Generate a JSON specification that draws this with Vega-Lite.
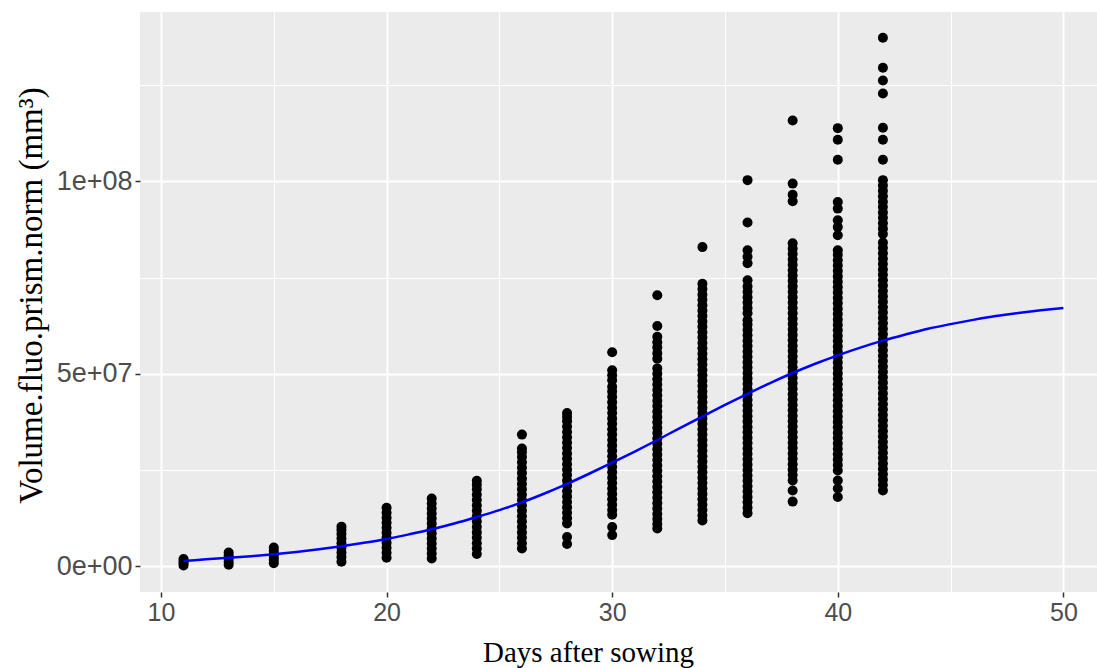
{
"$schema": "https://vega.github.io/schema/vega-lite/v6.json",
"width": 957, "height": 580,
"autosize": {"type": "none"},
"padding": {"left": 140, "top": 12, "right": 0, "bottom": 76},
"background": "white",
"view": {"fill": "#EBEBEB", "stroke": null},
"config": {"axis": {"domain": false, "gridColor": "white", "tickColor": "#333333", "tickSize": 5, "tickWidth": 1.5, "labelColor": "#4D4D4D", "labelFont": "Liberation Sans", "labelFontSize": 25, "labelPadding": 3, "titleFont": "Liberation Serif", "titleFontSize": 29, "titleFontWeight": "normal", "titleColor": "black"}},
"datasets": {
"pts": [
{"day":11,"volume":0.2e6},{"day":11,"volume":0.8e6},{"day":11,"volume":1.4e6},{"day":11,"volume":1.9e6},
{"day":13,"volume":0.4e6},{"day":13,"volume":1.2e6},{"day":13,"volume":2.0e6},{"day":13,"volume":2.8e6},{"day":13,"volume":3.6e6},
{"day":15,"volume":0.8e6},{"day":15,"volume":1.6e6},{"day":15,"volume":2.4e6},{"day":15,"volume":3.2e6},{"day":15,"volume":4.0e6},{"day":15,"volume":4.9e6},
{"day":18,"volume":1.2e6},{"day":18,"volume":2.4e6},{"day":18,"volume":3.6e6},{"day":18,"volume":4.8e6},{"day":18,"volume":6.0e6},{"day":18,"volume":7.2e6},{"day":18,"volume":8.4e6},{"day":18,"volume":9.4e6},{"day":18,"volume":10.3e6},
{"day":20,"volume":2.2e6},{"day":20,"volume":3.5e6},{"day":20,"volume":4.8e6},{"day":20,"volume":6.1e6},{"day":20,"volume":7.4e6},{"day":20,"volume":8.7e6},{"day":20,"volume":10.0e6},{"day":20,"volume":11.3e6},{"day":20,"volume":12.6e6},{"day":20,"volume":13.9e6},{"day":20,"volume":15.2e6},
{"day":22,"volume":2.0e6},{"day":22,"volume":3.3e6},{"day":22,"volume":4.6e6},{"day":22,"volume":5.9e6},{"day":22,"volume":7.2e6},{"day":22,"volume":8.5e6},{"day":22,"volume":9.8e6},{"day":22,"volume":11.1e6},{"day":22,"volume":12.4e6},{"day":22,"volume":13.7e6},{"day":22,"volume":15.0e6},{"day":22,"volume":16.3e6},{"day":22,"volume":17.6e6},
{"day":24,"volume":3.2e6},{"day":24,"volume":4.6e6},{"day":24,"volume":6.0e6},{"day":24,"volume":7.4e6},{"day":24,"volume":8.8e6},{"day":24,"volume":10.2e6},{"day":24,"volume":11.6e6},{"day":24,"volume":13.0e6},{"day":24,"volume":14.4e6},{"day":24,"volume":15.8e6},{"day":24,"volume":17.2e6},{"day":24,"volume":18.6e6},{"day":24,"volume":20.0e6},{"day":24,"volume":21.2e6},{"day":24,"volume":22.2e6},
{"day":26,"volume":4.6e6},{"day":26,"volume":6.0e6},{"day":26,"volume":7.4e6},{"day":26,"volume":8.8e6},{"day":26,"volume":10.2e6},{"day":26,"volume":11.6e6},{"day":26,"volume":13.0e6},{"day":26,"volume":14.4e6},{"day":26,"volume":15.8e6},{"day":26,"volume":17.2e6},{"day":26,"volume":18.6e6},{"day":26,"volume":20.0e6},{"day":26,"volume":21.4e6},{"day":26,"volume":22.8e6},{"day":26,"volume":24.2e6},{"day":26,"volume":25.6e6},{"day":26,"volume":27.0e6},{"day":26,"volume":28.4e6},{"day":26,"volume":29.6e6},{"day":26,"volume":30.6e6},{"day":26,"volume":34.2e6},
{"day":28,"volume":5.8e6},{"day":28,"volume":7.6e6},{"day":28,"volume":11.1e6},{"day":28,"volume":12.5e6},{"day":28,"volume":13.9e6},{"day":28,"volume":15.3e6},{"day":28,"volume":16.7e6},{"day":28,"volume":18.1e6},{"day":28,"volume":19.5e6},{"day":28,"volume":20.9e6},{"day":28,"volume":22.3e6},{"day":28,"volume":23.7e6},{"day":28,"volume":25.1e6},{"day":28,"volume":26.5e6},{"day":28,"volume":27.9e6},{"day":28,"volume":29.3e6},{"day":28,"volume":30.7e6},{"day":28,"volume":32.1e6},{"day":28,"volume":33.5e6},{"day":28,"volume":34.9e6},{"day":28,"volume":36.3e6},{"day":28,"volume":37.7e6},{"day":28,"volume":38.8e6},{"day":28,"volume":39.8e6},
{"day":30,"volume":8.1e6},{"day":30,"volume":10.2e6},{"day":30,"volume":13.4e6},{"day":30,"volume":14.6e6},{"day":30,"volume":16.0e6},{"day":30,"volume":17.4e6},{"day":30,"volume":18.8e6},{"day":30,"volume":20.2e6},{"day":30,"volume":21.6e6},{"day":30,"volume":23.0e6},{"day":30,"volume":24.4e6},{"day":30,"volume":25.8e6},{"day":30,"volume":27.2e6},{"day":30,"volume":28.6e6},{"day":30,"volume":30.0e6},{"day":30,"volume":31.4e6},{"day":30,"volume":32.8e6},{"day":30,"volume":34.2e6},{"day":30,"volume":35.6e6},{"day":30,"volume":37.0e6},{"day":30,"volume":38.4e6},{"day":30,"volume":39.8e6},{"day":30,"volume":41.2e6},{"day":30,"volume":42.6e6},{"day":30,"volume":44.0e6},{"day":30,"volume":45.4e6},{"day":30,"volume":46.6e6},{"day":30,"volume":48.3e6},{"day":30,"volume":49.6e6},{"day":30,"volume":50.9e6},{"day":30,"volume":55.6e6},
{"day":32,"volume":9.8e6},{"day":32,"volume":11.0e6},{"day":32,"volume":12.3e6},{"day":32,"volume":13.6e6},{"day":32,"volume":15.0e6},{"day":32,"volume":16.4e6},{"day":32,"volume":17.8e6},{"day":32,"volume":19.2e6},{"day":32,"volume":20.6e6},{"day":32,"volume":22.0e6},{"day":32,"volume":23.4e6},{"day":32,"volume":24.8e6},{"day":32,"volume":26.2e6},{"day":32,"volume":27.6e6},{"day":32,"volume":29.0e6},{"day":32,"volume":30.4e6},{"day":32,"volume":31.8e6},{"day":32,"volume":33.2e6},{"day":32,"volume":34.6e6},{"day":32,"volume":36.0e6},{"day":32,"volume":37.4e6},{"day":32,"volume":38.8e6},{"day":32,"volume":40.2e6},{"day":32,"volume":41.6e6},{"day":32,"volume":43.0e6},{"day":32,"volume":44.4e6},{"day":32,"volume":45.8e6},{"day":32,"volume":47.2e6},{"day":32,"volume":48.6e6},{"day":32,"volume":50.0e6},{"day":32,"volume":51.4e6},{"day":32,"volume":53.9e6},{"day":32,"volume":55.3e6},{"day":32,"volume":56.8e6},{"day":32,"volume":58.2e6},{"day":32,"volume":59.6e6},{"day":32,"volume":62.4e6},{"day":32,"volume":70.4e6},
{"day":34,"volume":11.9e6},{"day":34,"volume":13.2e6},{"day":34,"volume":14.6e6},{"day":34,"volume":16.0e6},{"day":34,"volume":17.4e6},{"day":34,"volume":18.8e6},{"day":34,"volume":20.2e6},{"day":34,"volume":21.6e6},{"day":34,"volume":23.0e6},{"day":34,"volume":24.4e6},{"day":34,"volume":25.8e6},{"day":34,"volume":27.2e6},{"day":34,"volume":28.6e6},{"day":34,"volume":30.0e6},{"day":34,"volume":31.4e6},{"day":34,"volume":32.8e6},{"day":34,"volume":34.2e6},{"day":34,"volume":35.6e6},{"day":34,"volume":37.0e6},{"day":34,"volume":38.4e6},{"day":34,"volume":39.8e6},{"day":34,"volume":41.2e6},{"day":34,"volume":42.6e6},{"day":34,"volume":44.0e6},{"day":34,"volume":45.4e6},{"day":34,"volume":46.8e6},{"day":34,"volume":48.2e6},{"day":34,"volume":49.6e6},{"day":34,"volume":51.0e6},{"day":34,"volume":52.4e6},{"day":34,"volume":53.8e6},{"day":34,"volume":55.2e6},{"day":34,"volume":56.6e6},{"day":34,"volume":58.0e6},{"day":34,"volume":59.4e6},{"day":34,"volume":60.8e6},{"day":34,"volume":62.2e6},{"day":34,"volume":63.6e6},{"day":34,"volume":65.0e6},{"day":34,"volume":66.4e6},{"day":34,"volume":67.8e6},{"day":34,"volume":69.2e6},{"day":34,"volume":70.6e6},{"day":34,"volume":72.0e6},{"day":34,"volume":73.4e6},{"day":34,"volume":82.9e6},
{"day":36,"volume":13.8e6},{"day":36,"volume":15.2e6},{"day":36,"volume":16.6e6},{"day":36,"volume":18.0e6},{"day":36,"volume":19.4e6},{"day":36,"volume":20.8e6},{"day":36,"volume":22.2e6},{"day":36,"volume":23.6e6},{"day":36,"volume":25.0e6},{"day":36,"volume":26.4e6},{"day":36,"volume":27.8e6},{"day":36,"volume":29.2e6},{"day":36,"volume":30.6e6},{"day":36,"volume":32.0e6},{"day":36,"volume":33.4e6},{"day":36,"volume":34.8e6},{"day":36,"volume":36.2e6},{"day":36,"volume":37.6e6},{"day":36,"volume":39.0e6},{"day":36,"volume":40.4e6},{"day":36,"volume":41.8e6},{"day":36,"volume":43.2e6},{"day":36,"volume":44.6e6},{"day":36,"volume":46.0e6},{"day":36,"volume":47.4e6},{"day":36,"volume":48.8e6},{"day":36,"volume":50.2e6},{"day":36,"volume":51.6e6},{"day":36,"volume":53.0e6},{"day":36,"volume":54.4e6},{"day":36,"volume":55.8e6},{"day":36,"volume":57.2e6},{"day":36,"volume":58.6e6},{"day":36,"volume":60.0e6},{"day":36,"volume":61.4e6},{"day":36,"volume":62.8e6},{"day":36,"volume":63.9e6},{"day":36,"volume":65.7e6},{"day":36,"volume":67.1e6},{"day":36,"volume":68.5e6},{"day":36,"volume":69.9e6},{"day":36,"volume":71.3e6},{"day":36,"volume":72.7e6},{"day":36,"volume":74.3e6},{"day":36,"volume":78.7e6},{"day":36,"volume":80.4e6},{"day":36,"volume":82.1e6},{"day":36,"volume":89.3e6},{"day":36,"volume":100.3e6},
{"day":38,"volume":16.8e6},{"day":38,"volume":19.7e6},{"day":38,"volume":22.3e6},{"day":38,"volume":23.7e6},{"day":38,"volume":25.1e6},{"day":38,"volume":26.5e6},{"day":38,"volume":27.9e6},{"day":38,"volume":29.3e6},{"day":38,"volume":30.7e6},{"day":38,"volume":32.1e6},{"day":38,"volume":33.5e6},{"day":38,"volume":34.9e6},{"day":38,"volume":36.3e6},{"day":38,"volume":37.7e6},{"day":38,"volume":39.1e6},{"day":38,"volume":40.5e6},{"day":38,"volume":41.9e6},{"day":38,"volume":43.3e6},{"day":38,"volume":44.7e6},{"day":38,"volume":46.1e6},{"day":38,"volume":47.5e6},{"day":38,"volume":48.9e6},{"day":38,"volume":50.3e6},{"day":38,"volume":51.7e6},{"day":38,"volume":53.1e6},{"day":38,"volume":54.5e6},{"day":38,"volume":55.9e6},{"day":38,"volume":57.3e6},{"day":38,"volume":58.7e6},{"day":38,"volume":60.1e6},{"day":38,"volume":61.5e6},{"day":38,"volume":62.9e6},{"day":38,"volume":64.3e6},{"day":38,"volume":65.7e6},{"day":38,"volume":67.1e6},{"day":38,"volume":68.5e6},{"day":38,"volume":69.9e6},{"day":38,"volume":71.3e6},{"day":38,"volume":72.7e6},{"day":38,"volume":74.1e6},{"day":38,"volume":75.5e6},{"day":38,"volume":76.9e6},{"day":38,"volume":78.3e6},{"day":38,"volume":79.7e6},{"day":38,"volume":81.1e6},{"day":38,"volume":82.5e6},{"day":38,"volume":83.9e6},{"day":38,"volume":94.8e6},{"day":38,"volume":96.5e6},{"day":38,"volume":99.4e6},{"day":38,"volume":115.8e6},
{"day":40,"volume":18.0e6},{"day":40,"volume":20.2e6},{"day":40,"volume":22.3e6},{"day":40,"volume":24.9e6},{"day":40,"volume":26.3e6},{"day":40,"volume":27.7e6},{"day":40,"volume":29.1e6},{"day":40,"volume":30.5e6},{"day":40,"volume":31.9e6},{"day":40,"volume":33.3e6},{"day":40,"volume":34.7e6},{"day":40,"volume":36.1e6},{"day":40,"volume":37.5e6},{"day":40,"volume":38.9e6},{"day":40,"volume":40.3e6},{"day":40,"volume":41.7e6},{"day":40,"volume":43.1e6},{"day":40,"volume":44.5e6},{"day":40,"volume":45.9e6},{"day":40,"volume":47.3e6},{"day":40,"volume":48.7e6},{"day":40,"volume":50.1e6},{"day":40,"volume":51.5e6},{"day":40,"volume":52.9e6},{"day":40,"volume":54.3e6},{"day":40,"volume":55.7e6},{"day":40,"volume":57.1e6},{"day":40,"volume":58.5e6},{"day":40,"volume":59.9e6},{"day":40,"volume":61.3e6},{"day":40,"volume":62.7e6},{"day":40,"volume":64.1e6},{"day":40,"volume":65.5e6},{"day":40,"volume":66.9e6},{"day":40,"volume":68.3e6},{"day":40,"volume":69.7e6},{"day":40,"volume":71.1e6},{"day":40,"volume":72.5e6},{"day":40,"volume":73.9e6},{"day":40,"volume":75.3e6},{"day":40,"volume":76.7e6},{"day":40,"volume":78.1e6},{"day":40,"volume":79.5e6},{"day":40,"volume":80.9e6},{"day":40,"volume":82.1e6},{"day":40,"volume":86.0e6},{"day":40,"volume":88.1e6},{"day":40,"volume":89.9e6},{"day":40,"volume":92.9e6},{"day":40,"volume":94.6e6},{"day":40,"volume":105.6e6},{"day":40,"volume":110.8e6},{"day":40,"volume":113.8e6},
{"day":42,"volume":19.7e6},{"day":42,"volume":21.1e6},{"day":42,"volume":22.5e6},{"day":42,"volume":23.9e6},{"day":42,"volume":25.3e6},{"day":42,"volume":26.7e6},{"day":42,"volume":28.1e6},{"day":42,"volume":29.5e6},{"day":42,"volume":30.9e6},{"day":42,"volume":32.3e6},{"day":42,"volume":33.7e6},{"day":42,"volume":35.1e6},{"day":42,"volume":36.5e6},{"day":42,"volume":37.9e6},{"day":42,"volume":39.3e6},{"day":42,"volume":40.7e6},{"day":42,"volume":42.1e6},{"day":42,"volume":43.5e6},{"day":42,"volume":44.9e6},{"day":42,"volume":46.3e6},{"day":42,"volume":47.7e6},{"day":42,"volume":49.1e6},{"day":42,"volume":50.5e6},{"day":42,"volume":51.9e6},{"day":42,"volume":53.3e6},{"day":42,"volume":54.7e6},{"day":42,"volume":56.1e6},{"day":42,"volume":57.5e6},{"day":42,"volume":58.9e6},{"day":42,"volume":60.3e6},{"day":42,"volume":61.7e6},{"day":42,"volume":63.1e6},{"day":42,"volume":64.5e6},{"day":42,"volume":65.9e6},{"day":42,"volume":67.3e6},{"day":42,"volume":68.7e6},{"day":42,"volume":70.1e6},{"day":42,"volume":71.5e6},{"day":42,"volume":72.9e6},{"day":42,"volume":74.3e6},{"day":42,"volume":75.7e6},{"day":42,"volume":77.1e6},{"day":42,"volume":78.5e6},{"day":42,"volume":79.9e6},{"day":42,"volume":81.3e6},{"day":42,"volume":82.7e6},{"day":42,"volume":84.1e6},{"day":42,"volume":86.3e6},{"day":42,"volume":87.7e6},{"day":42,"volume":89.1e6},{"day":42,"volume":90.5e6},{"day":42,"volume":91.9e6},{"day":42,"volume":93.3e6},{"day":42,"volume":94.7e6},{"day":42,"volume":96.1e6},{"day":42,"volume":97.5e6},{"day":42,"volume":98.9e6},{"day":42,"volume":100.3e6},{"day":42,"volume":105.6e6},{"day":42,"volume":110.8e6},{"day":42,"volume":113.9e6},{"day":42,"volume":122.8e6},{"day":42,"volume":126.2e6},{"day":42,"volume":129.5e6},{"day":42,"volume":137.3e6}
],
"fit": [
{"day":11,"volume":1.4e6},{"day":12,"volume":1.8e6},{"day":13,"volume":2.2e6},{"day":14,"volume":2.6e6},{"day":15,"volume":3.1e6},{"day":16,"volume":3.7e6},{"day":17,"volume":4.4e6},{"day":18,"volume":5.2e6},{"day":19,"volume":6.1e6},{"day":20,"volume":7.1e6},{"day":21,"volume":8.3e6},{"day":22,"volume":9.6e6},{"day":23,"volume":11.1e6},{"day":24,"volume":12.8e6},{"day":25,"volume":14.6e6},{"day":26,"volume":16.6e6},{"day":27,"volume":18.9e6},{"day":28,"volume":21.4e6},{"day":29,"volume":24.1e6},{"day":30,"volume":26.9e6},{"day":31,"volume":29.8e6},{"day":32,"volume":32.8e6},{"day":33,"volume":35.9e6},{"day":34,"volume":38.9e6},{"day":35,"volume":41.9e6},{"day":36,"volume":44.8e6},{"day":37,"volume":47.6e6},{"day":38,"volume":50.2e6},{"day":39,"volume":52.6e6},{"day":40,"volume":54.8e6},{"day":41,"volume":56.8e6},{"day":42,"volume":58.6e6},{"day":43,"volume":60.2e6},{"day":44,"volume":61.7e6},{"day":45,"volume":62.9e6},{"day":46,"volume":64.0e6},{"day":47,"volume":65.0e6},{"day":48,"volume":65.8e6},{"day":49,"volume":66.5e6},{"day":50,"volume":67.1e6}
]
},
"encoding": {
"x": {"field": "day", "type": "quantitative", "scale": {"domain": [9.07, 51.49], "nice": false, "zero": false},
 "axis": {"title": "Days after sowing", "values": [10, 15, 20, 25, 30, 35, 40, 45, 50],
  "labelExpr": "datum.value % 10 === 0 ? datum.label : ''",
  "gridWidth": {"condition": {"test": "datum.value % 10 === 0", "value": 2}, "value": 1},
  "tickOpacity": {"condition": {"test": "datum.value % 10 === 0", "value": 1}, "value": 0},
  "titleX": 448, "titlePadding": 13}},
"y": {"field": "volume", "type": "quantitative", "scale": {"domain": [-6.68e6, 143.97e6], "nice": false, "zero": false},
 "axis": {"title": "Volume.fluo.prism.norm (mm³)", "values": [0, 25000000, 50000000, 75000000, 100000000, 125000000],
  "labelExpr": "datum.value === 0 ? '0e+00' : datum.value === 50000000 ? '5e+07' : datum.value === 100000000 ? '1e+08' : ''",
  "labelFontSize": 27,
  "gridWidth": {"condition": {"test": "datum.value % 50000000 === 0", "value": 2}, "value": 1},
  "tickOpacity": {"condition": {"test": "datum.value % 50000000 === 0", "value": 1}, "value": 0},
  "titleFontSize": 33, "titleY": 283, "titlePadding": 8}}
},
"layer": [
{"data": {"name": "pts"}, "mark": {"type": "circle", "size": 100, "color": "black", "opacity": 1}},
{"data": {"name": "fit"}, "mark": {"type": "line", "color": "#0000FF", "strokeWidth": 2.5, "interpolate": "monotone"}}
]
}
